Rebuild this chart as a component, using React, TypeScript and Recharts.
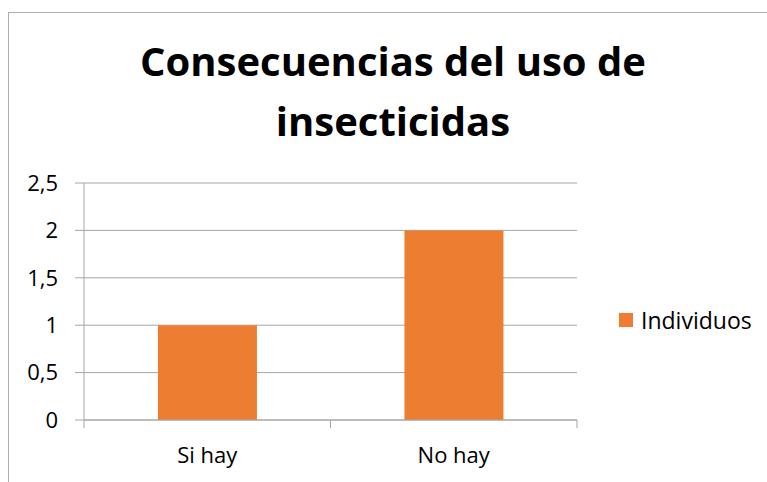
import { Bar, BarChart, CartesianGrid, Legend, XAxis, YAxis } from 'recharts';

const categories = ['Si hay', 'No hay'];
const individuos = [1, 2];
const yTicks = [0, 0.5, 1, 1.5, 2, 2.5];

const data = categories.map((c, i) => ({ name: c, Individuos: individuos[i] }));

const FONT = '"Open Sans", "Noto Sans", sans-serif';
const GRID = '#a6a6a6';
const ORANGE = '#ED7D31';

const fmt = (v: number) => String(v).replace('.', ',');

// legend drawn by hand so the swatch/text spacing matches
function LegendBox({ payload }: any) {
  return (
    <div style={{ fontFamily: FONT, fontSize: 23, color: '#000' }}>
      {(payload || []).map((p: any) => (
        <div key={p.value} style={{ display: 'flex', alignItems: 'center', lineHeight: '30px' }}>
          <span style={{ display: 'inline-block', width: 14, height: 14, background: p.color, marginRight: 8 }} />
          <span>{p.value}</span>
        </div>
      ))}
    </div>
  );
}

// category label plus tick marks on the band edges (Excel style)
function CatTick({ x, y, payload, index }: any) {
  const half = payload?.offset ?? 0;
  const axisY = y - 27;
  return (
    <g>
      <line x1={x - half} x2={x - half} y1={axisY} y2={axisY + 8} stroke={GRID} />
      {index === categories.length - 1 && (
        <line x1={x + half} x2={x + half} y1={axisY} y2={axisY + 8} stroke={GRID} />
      )}
      <text x={x} y={y} dy="0.71em" textAnchor="middle" fill="#000" fontSize={22} fontFamily={FONT}>
        {payload.value}
      </text>
    </g>
  );
}

export default function App() {
  return (
    <div style={{ position: 'absolute', left: 0, top: 0, width: 767, height: 482, background: '#fff', overflow: 'hidden', fontFamily: FONT }}>
      {/* outer chart frame */}
      <div style={{ position: 'absolute', left: 8, top: 12, width: 900, height: 600, border: '1px solid #b0b0b0' }} />
      <div
        style={{
          position: 'absolute', left: 93, width: 600, top: 31, textAlign: 'center',
          fontWeight: 700, fontSize: 40, lineHeight: '60px', color: '#000',
        }}
      >
        Consecuencias del uso de
        <br />
        insecticidas
      </div>
      <BarChart
        width={767}
        height={482}
        data={data}
        margin={{ top: 183, right: 40, left: 14, bottom: 12 }}
        barCategoryGap="30%"
        style={{ position: 'absolute', left: 0, top: 0 }}
      >
        <CartesianGrid vertical={false} stroke={GRID} strokeWidth={1} />
        <XAxis
          dataKey="name"
          height={50}
          stroke={GRID}
          tickLine={false}
          tickSize={6}
          tickMargin={21}
          tick={<CatTick />}
        />
        <YAxis
          width={70}
          domain={[0, 2.5]}
          ticks={yTicks}
          tickFormatter={fmt}
          tickSize={9}
          tickMargin={17}
          stroke={GRID}
          tick={{ fill: '#000', fontSize: 22, fontFamily: FONT }}
        />
        <Legend
          layout="vertical"
          align="right"
          verticalAlign="middle"
          wrapperStyle={{ left: 619, top: 305, width: 150 }}
          content={<LegendBox />}
        />
        <Bar dataKey="Individuos" fill={ORANGE} isAnimationActive={false} />
      </BarChart>
    </div>
  );
}
